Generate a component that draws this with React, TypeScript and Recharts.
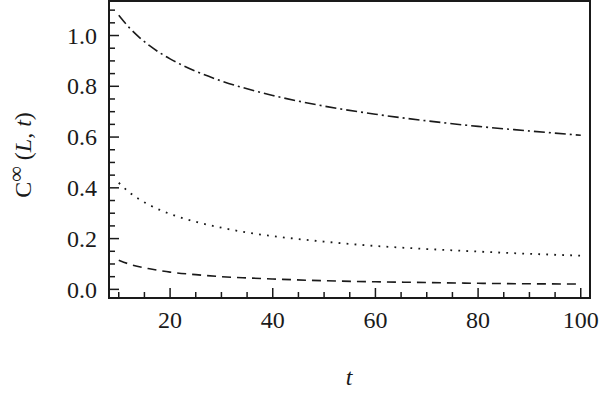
import { LineChart, Line, XAxis, YAxis, ReferenceArea, Label } from 'recharts';

// time values and the three decay curves
const tValues = [10, 12, 14, 16, 18, 20, 25, 30, 35, 40, 50, 60, 70, 80, 90, 100];
const dashDotValues = [1.08, 1.032, 0.993, 0.96, 0.932, 0.908, 0.859, 0.821, 0.79, 0.764, 0.722, 0.69, 0.664, 0.642, 0.624, 0.607];
const dottedValues = [0.42, 0.383, 0.355, 0.332, 0.313, 0.297, 0.266, 0.243, 0.224, 0.21, 0.188, 0.171, 0.159, 0.149, 0.14, 0.133];
const dashedValues = [0.115, 0.1, 0.089, 0.081, 0.074, 0.068, 0.058, 0.05, 0.045, 0.041, 0.034, 0.03, 0.027, 0.024, 0.022, 0.021];

const xTicks = [10, 15, 20, 25, 30, 35, 40, 45, 50, 55, 60, 65, 70, 75, 80, 85, 90, 95, 100];
const xLabelTicks = [20, 40, 60, 80, 100];
const yTicks = [0, 0.05, 0.1, 0.15, 0.2, 0.25, 0.3, 0.35, 0.4, 0.45, 0.5, 0.55, 0.6, 0.65, 0.7, 0.75, 0.8, 0.85, 0.9, 0.95, 1.0, 1.05, 1.1];
const yLabelTicks = ['0.0', '0.2', '0.4', '0.6', '0.8', '1.0'];

const xDomain = [8.1, 101.8];
const yDomain = [-0.034, 1.136];

const data = tValues.map((t, i) => ({
  t,
  dashDot: dashDotValues[i],
  dotted: dottedValues[i],
  dashed: dashedValues[i],
}));

const FONT = "'Liberation Serif', 'Times New Roman', serif";
const INK = '#1a1a1a';
const textStyle = { fontFamily: FONT, fontSize: 24 };

function XTick(props: any) {
  const { x, y, payload } = props;
  const major = xLabelTicks.includes(payload.value);
  return (
    <g>
      <line x1={x} y1={y} x2={x} y2={y - (major ? 10 : 6)} stroke={INK} strokeWidth={1.5} />
      {major && (
        <text x={x} y={y + 30} textAnchor="middle" style={textStyle} fill={INK}>
          {payload.value}
        </text>
      )}
    </g>
  );
}

function YTick(props: any) {
  const { x, y, payload } = props;
  const label = Number(payload.value).toFixed(1);
  const major = Math.abs(payload.value * 5 - Math.round(payload.value * 5)) < 1e-6;
  return (
    <g>
      <line x1={x} y1={y} x2={x + (major ? 10 : 6)} y2={y} stroke={INK} strokeWidth={1.5} />
      {major && yLabelTicks.includes(label) && (
        <text x={x - 12} y={y} dy="0.34em" textAnchor="end" style={textStyle} fill={INK}>
          {label}
        </text>
      )}
    </g>
  );
}

function YTitle() {
  return (
    <text x={31} y={155} transform="rotate(-90 31 155)" textAnchor="middle" style={textStyle} fill={INK}>
      <tspan>C</tspan>
      <tspan style={{ fontSize: 22 }} dy={-8}>∞</tspan>
      <tspan dy={8}>{'\u00a0('}</tspan>
      <tspan fontStyle="italic">L</tspan>
      <tspan>{',\u00a0'}</tspan>
      <tspan fontStyle="italic">t</tspan>
      <tspan>)</tspan>
    </text>
  );
}

export default function App() {
  return (
    <div style={{ position: 'absolute', left: 0, top: 0, width: 600, height: 393, background: '#fff' }}>
      <LineChart width={600} height={393} data={data} margin={{ top: 1, right: 10, left: 0, bottom: 0 }}>
        <XAxis
          dataKey="t"
          type="number"
          domain={xDomain}
          ticks={xTicks}
          allowDataOverflow
          height={95}
          tickSize={0}
          tickMargin={0}
          tickLine={false}
          axisLine={{ stroke: INK, strokeWidth: 2 }}
          tick={<XTick />}
          interval={0}
        >
          <Label
            content={() => (
              <text x={349} y={385} textAnchor="middle" style={textStyle} fontStyle="italic" fill={INK}>
                t
              </text>
            )}
          />
        </XAxis>
        <YAxis
          type="number"
          domain={yDomain}
          ticks={yTicks}
          allowDataOverflow
          width={109}
          tickSize={0}
          tickMargin={0}
          tickLine={false}
          axisLine={{ stroke: INK, strokeWidth: 2 }}
          tick={<YTick />}
          interval={0}
        >
          <Label content={() => <YTitle />} />
        </YAxis>
        <ReferenceArea
          x1={xDomain[0]}
          x2={xDomain[1]}
          y1={yDomain[0]}
          y2={yDomain[1]}
          fill="none"
          stroke={INK}
          strokeWidth={2}
          ifOverflow="visible"
        />
        <Line
          type="monotone"
          dataKey="dashDot"
          stroke={INK}
          strokeWidth={1.6}
          strokeDasharray="11 4 2 4"
          dot={false}
          isAnimationActive={false}
        />
        <Line
          type="monotone"
          dataKey="dotted"
          stroke={INK}
          strokeWidth={1.8}
          strokeDasharray="1.8 6.2"
          dot={false}
          isAnimationActive={false}
        />
        <Line
          type="monotone"
          dataKey="dashed"
          stroke={INK}
          strokeWidth={1.6}
          strokeDasharray="9 6"
          dot={false}
          isAnimationActive={false}
        />
      </LineChart>
    </div>
  );
}
